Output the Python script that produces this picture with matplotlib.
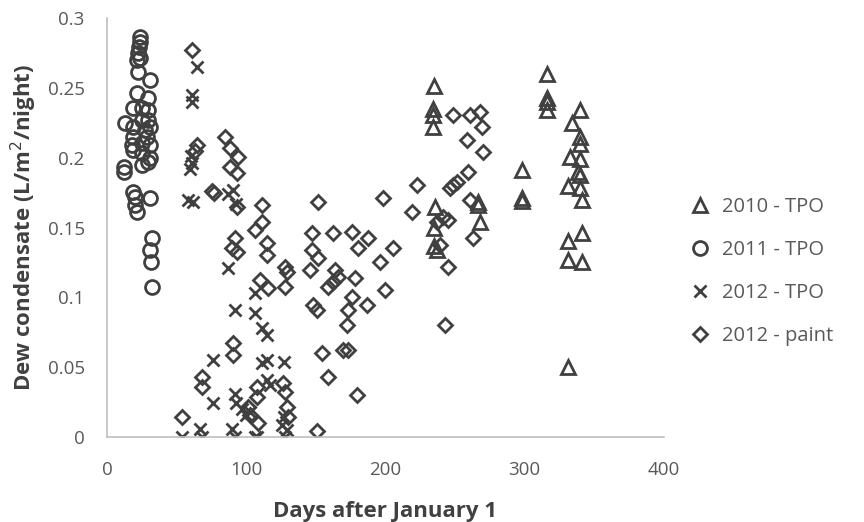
import numpy as np
import matplotlib
matplotlib.use("Agg")
import matplotlib.pyplot as plt

# 2010 - TPO (days, L/m2/night)
days_2010 = [235, 234, 234, 234, 298, 298, 298, 235.5, 266.5, 266.5, 268, 235,
             236.8, 235, 316, 316, 316, 316, 339.7, 333.7, 340, 340, 332.5,
             339.7, 338.5, 339.7, 331.3, 339.7, 340.8, 340.8, 331.3, 331.3,
             340.8, 331.3]
dew_2010 = [0.251, 0.235, 0.2305, 0.222, 0.191, 0.171, 0.169, 0.165, 0.168,
            0.166, 0.154, 0.1496, 0.134, 0.137, 0.260, 0.243, 0.240, 0.234,
            0.234, 0.2245, 0.215, 0.210, 0.2006, 0.1994, 0.19, 0.1875, 0.180,
            0.178, 0.1696, 0.1458, 0.140, 0.1267, 0.1255, 0.0503]

# 2011 - TPO
days_2011 = [23.7, 23.7, 23.2, 22.5, 23.7, 21.8, 22.5, 30.9, 21.8, 29.7, 18.9,
             24.9, 29.7, 12.9, 18.9, 24.9, 29.7, 27.3, 30.9, 18.9, 28.5, 24.9,
             17.7, 18.9, 30.9, 24.9, 30.9, 24.9, 29.7, 12.2, 12.2, 18.9, 20.1,
             30.9, 20.1, 21.3, 32.1, 30.9, 31.4, 32.1]
dew_2011 = [0.2865, 0.283, 0.2794, 0.2747, 0.2711, 0.2699, 0.2615, 0.2556,
            0.246, 0.2424, 0.2353, 0.2353, 0.234, 0.2245, 0.2221, 0.2269,
            0.2269, 0.2198, 0.2221, 0.215, 0.215, 0.2102, 0.209, 0.2054,
            0.209, 0.2031, 0.1995, 0.1947, 0.1971, 0.1935, 0.1899, 0.1756,
            0.172, 0.1709, 0.1661, 0.1613, 0.1422, 0.1339, 0.1255, 0.1076]

# 2012 - TPO
days_2012 = [64.4, 60.8, 60.8, 60, 61, 59.5, 58.5, 61.5, 87, 90.5, 93, 87,
             106.3, 92, 106.3, 111, 115, 76, 111, 115, 127, 115, 117, 92, 76,
             93, 97, 103, 127, 126, 129, 53.6, 67, 68, 89.5, 92, 106, 107.5,
             128, 100]
dew_2012 = [0.265, 0.245, 0.240, 0.201, 0.196, 0.192, 0.170, 0.168, 0.174,
            0.177, 0.167, 0.121, 0.103, 0.091, 0.0886, 0.078, 0.073, 0.055,
            0.053, 0.055, 0.054, 0.041, 0.037, 0.031, 0.024, 0.024, 0.020,
            0.018, 0.0145, 0.0086, 0.005, 0.0, 0.006, 0.0, 0.006, 0.0, 0.0,
            0.0, 0.0, 0.016]

# 2012 - paint
days_paint = [60.8, 84.7, 64.4, 63.2, 88.3, 94.3, 88.3, 93.1, 75.5, 77, 93.1,
              111.1, 151.7, 111.1, 106.3, 114.7, 114.7, 91.9, 89.6, 93.1, 147,
              147, 151.7, 145.8, 162.5, 163.7, 158.9, 127.8, 129, 127.8, 109.9,
              115.8, 148.1, 150.6, 90.7, 90.7, 68, 68, 53.6, 107.5, 107.5,
              126.6, 127.8, 129, 130.2, 154.2, 158.9, 151, 101.5, 102.7, 108.7,
              270.2, 259.5, 222.4, 251.1, 248.7, 246.3, 198.4, 218.8, 260.7,
              241.5, 245.1, 236.8, 263, 239.1, 175.7, 187.6, 180.5, 205.6, 196,
              245.1, 166.1, 162.5, 178.1, 175.7, 173.3, 172.1, 199.6, 186.5,
              242.7, 169.7, 173.3, 179.3, 248.7, 260.7, 267.9, 269.1, 258.3]
dew_paint = [0.277, 0.215, 0.209, 0.205, 0.207, 0.2006, 0.1935, 0.1888, 0.176,
             0.175, 0.1649, 0.1661, 0.1684, 0.1541, 0.1482, 0.1387, 0.1303,
             0.1422, 0.1351, 0.1326, 0.1458, 0.1339, 0.1279, 0.1195, 0.1458,
             0.1195, 0.1076, 0.1219, 0.1183, 0.1076, 0.1124, 0.1064, 0.0945,
             0.0909, 0.0671, 0.0587, 0.0432, 0.036, 0.0145, 0.036, 0.0288,
             0.0384, 0.0324, 0.0217, 0.0145, 0.0599, 0.0432, 0.004, 0.0217,
             0.0157, 0.0098, 0.2042, 0.19, 0.1804, 0.1827, 0.1804, 0.178,
             0.1709, 0.1613, 0.1696, 0.1577, 0.1553, 0.1541, 0.1422, 0.1374,
             0.147, 0.1422, 0.1351, 0.1351, 0.1255, 0.1219, 0.1147, 0.1112,
             0.1136, 0.1004, 0.0909, 0.0802, 0.1052, 0.0945, 0.0802, 0.0623,
             0.0623, 0.0301, 0.2305, 0.2305, 0.2329, 0.2221, 0.2126]

plt.rcParams['font.family'] = ['Open Sans', 'DejaVu Sans']

mk = '#404040'
txt = '#595959'

fig = plt.figure(figsize=(8.64, 5.22), dpi=100)
ax = fig.add_axes([0.1238, 0.1628, 0.6447, 0.8027])

style = dict(linestyle='none', markerfacecolor='none', markeredgecolor=mk,
             markeredgewidth=2)
ax.plot(days_2010, dew_2010, marker='^', markersize=10, label='2010 - TPO', **style)
ax.plot(days_2011, dew_2011, marker='o', markersize=10, label='2011 - TPO', **style)
ax.plot(days_2012, dew_2012, marker='x', markersize=9, label='2012 - TPO',
        linestyle='none', color=mk, markeredgewidth=2)
ax.plot(days_paint, dew_paint, marker='D', markersize=7.5, label='2012 - paint', **style)

ax.set_xlim(0, 400)
ax.set_ylim(0, 0.3)
ax.set_xticks([0, 100, 200, 300, 400])
ax.set_yticks([0, 0.05, 0.1, 0.15, 0.2, 0.25, 0.3])
ax.set_yticklabels(['0', '0.05', '0.1', '0.15', '0.2', '0.25', '0.3'])
ax.tick_params(length=0, labelsize=13.5, colors=txt)
ax.tick_params(axis='y', pad=16)
ax.tick_params(axis='x', pad=17)

for s in ['top', 'right']:
    ax.spines[s].set_visible(False)
for s in ['left', 'bottom']:
    ax.spines[s].set_color('#bfbfbf')
    ax.spines[s].set_linewidth(1.2)

ax.set_xlabel('Days after January 1', fontsize=16, fontweight='bold',
              color='#404040', labelpad=16)
ax.set_ylabel('Dew condensate (L/m$^2$/night)', fontsize=16, fontweight='bold',
              color='#404040', labelpad=6)

leg = fig.legend(loc='center left', bbox_to_anchor=(0.787, 0.48), frameon=False,
                 fontsize=14.5, handlelength=1, handletextpad=0.6, labelspacing=1.15,
                 borderpad=0)
for t in leg.get_texts():
    t.set_color(txt)

plt.savefig('out.png', dpi=100)
